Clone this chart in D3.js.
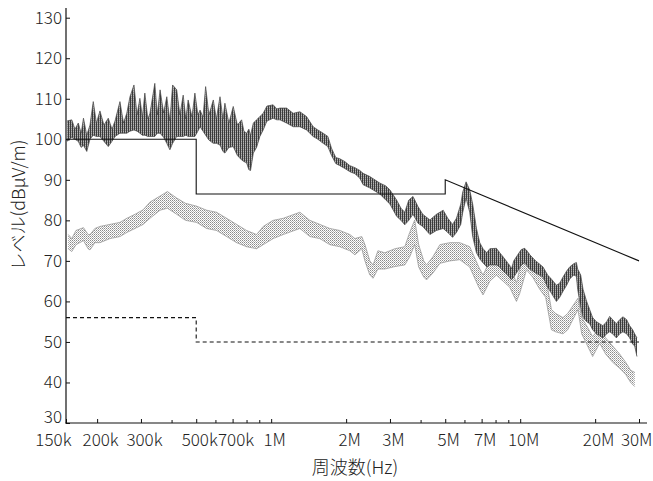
<!DOCTYPE html>
<html>
<head>
<meta charset="utf-8">
<script src="https://cdn.jsdelivr.net/npm/d3@7"></script>
<style>
  html, body { margin: 0; padding: 0; background: #fff; }
  svg { display: block; }
  .tick text { font-family: "Noto Sans CJK JP", "Noto Sans", sans-serif; font-weight: 300; fill: #222; }
  .title { font-family: "Noto Sans CJK JP", "Noto Sans", sans-serif; font-weight: 300; fill: #222; }
</style>
</head>
<body>
<svg id="chart" width="653" height="481"></svg>
<script>
// Frequency axis ticks (Hz) and their labels
const xTickValues = [150e3, 200e3, 300e3, 500e3, 700e3, 1e6, 2e6, 3e6, 5e6, 7e6, 10e6, 20e6, 30e6];
const xTickLabels = ["150k", "200k", "300k", "500k", "700k", "1M", "2M", "3M", "5M", "7M", "10M", "20M", "30M"];
const xMinorTicks = [400e3, 600e3, 800e3, 900e3, 4e6, 6e6, 8e6, 9e6];
const yTickValues = [30, 40, 50, 60, 70, 80, 90, 100, 110, 120, 130];

// Limit lines: frequency in MHz, level in dBµV/m
const limitFreqMHz  = [0.15, 0.5, 0.5, 5, 5, 30];
const limitUpper    = [100, 100, 86.5, 86.5, 90, 70];
const limit2FreqMHz = [0.15, 0.5, 0.5, 30];
const limitLower    = [56, 56, 50, 50];

// Peak sweep: frequency in kHz, upper and lower edge of the trace in dBµV/m
const peakFreqKHz = [151.4,158.2,163.0,168.0,172.6,176.3,181.8,187.2,193.0,198.7,205.3,213.0,221.7,229.5,236,247,255.2,263.1,271,281.2,289.3,297,304,311,319.7,326,341,349,358,369.8,381,392,402,417.5,430,443.3,454.2,464,480.8,494,507.8,518,532.5,545.5,562.4,585.6,602.3,623,640.4,652,676.6,704.2,731.7,760.9,777.2,796.5,813.6,826.3,848,873.7,901,928.9,961.7,1018.6,1054,1084,1153,1226,1304,1387,1474,1540,1617,1689,1747,1817,1887,1976,2070,2170,2270,2340,2490,2730,2887,3000,3190,3321,3440,3570,3712,3887,4061,4340,4612,4908,5120,5352,5547,5773,5880,6062,6270,6446,6674,6880,7093,7345,7550,8026,8280,8537,8913,9224,9422,9776,10099,10430,10920,11546,12351,12891,13349,13979,14410,14857,15372,15800,16396,16813,17013,17501,17878,18489,19010,19542,20227,20850,21496,22248,22870,23510,24331,25090,25868,26761,27520,28291,28820,29440];
const peakHigh = [104.5,104.8,102.5,104.0,101.5,105.2,101,103.5,109.3,104,107,103.5,105.2,102.5,104.5,109.3,104,106.4,110.5,113.4,106,110.1,105.5,111.4,105,106.4,113.8,106,112.2,106.5,110.5,104.5,113.4,112.2,106,110.9,105,109.7,105.5,111.4,106,107.2,105.5,113,106,109.7,105,110.5,105,108.9,104,108.1,103.5,104.8,102,101.5,102.5,101,104,104.8,105.6,106.4,108.2,108.5,107.5,107.7,107.7,106.4,106.8,105.6,103.1,102.3,101.5,100.7,97.8,95.5,95.2,94.5,93.5,93,92.3,91.6,90.8,89.2,88.5,87.5,85,83,82,85,85.9,83.4,81.5,80.1,81.5,82.5,80.5,79,80.5,84,87,89.5,87.5,84,78,74.5,73,72,73,73.1,72,71,69.5,68,70,71.5,72.8,73.1,71.5,70,68.5,66.5,65.5,64,64.5,66,67.5,68.5,69.3,69.6,68,66.5,63,60,58,56,55,54.5,54,55,56.3,55.5,54.5,55.5,56.2,55.5,54,53,52,51];
const peakLow = [99.5,100.5,100,99.5,98,98.5,97,100,101,100.7,100.7,99.5,98.2,99.5,100.7,101.5,101.5,101.5,102,102.3,102,101.5,101,101,100.7,100.7,100.7,101.5,101.5,100.5,99,97.4,99,100.7,100.7,100.7,101,100.7,100.7,100.7,102,103.1,102,101,99.8,99,99,98.6,97,96.6,98,98.2,96,94.9,94.5,94.2,92.5,92.3,96.6,98,100.7,102.3,104.5,105.2,104.8,104.8,104,103.1,103.1,102.3,100.7,100,99,98.2,96,94,93.5,92.8,92,91.5,90.4,88.8,88,86.5,85,84,81,80,78.9,80,81.5,79.3,78.5,76.5,77.5,78,77,75.8,77,79,82,85.5,82,76,72,70.5,69.5,68.5,69,69,68.5,67.5,66.5,65.3,66,67.5,69,69.5,68,67,66,63.5,62,60,61,62.5,64,65.5,66.5,66.2,63,58.5,56,55,54.5,53,52,51.5,51,52,52.5,52,51,52,52.5,52,51,49.5,49,46.4];

// Quasi-peak sweep: frequency in kHz, upper and lower edge of the trace in dBµV/m
const qpFreqKHz = [153.2,158.2,164.5,176.3,184,187.2,196,205.3,225.3,247,263.1,284,306.1,326,358,383,417.5,452.9,501.9,550.6,603.4,662.4,726.4,796.5,873.7,928.9,1018.6,1117.6,1304,1430,1568,1720,1887,2070,2170,2312,2380,2490,2567,2683,2860,3140,3440,3600,3770,3912,4099,4206,4462,4760,5220,5720,6270,6818,7093,7550,8026,8537,9080,9661,9960,10596,11226,11980,12657,13349,13888,14857,15512,17063,17664,18489,19542,20850,22043,23510,25090,26514,27776,28820];
const qpHigh = [76.5,75.5,77.5,78.2,76.5,76.5,78,78.5,79,79.5,80.5,81.5,82.6,84.5,86,87.1,85.5,84.2,83.5,82.5,82,80.5,79,77.5,76.5,78.5,80,80.5,82,80,79,78,77.5,76.5,75.5,76,74,70,69,72.5,72,73,73.5,77,80.1,74,70,69,71,74,74.5,74.5,73.5,68.5,66.5,70,71,69.5,69,64.5,68,72.7,70.5,68,66,58,57,56,57,60.8,56,54,51.3,53.5,51,49,47,45,43,42.5];
const qpLow = [73,72.3,74,75,73,72.7,74.5,74.5,75.5,76,77,78,79,80.5,82.5,83,81.5,80,79.5,78,77.5,76,74.5,73.5,73,74,75.5,76.5,78,76,75.5,74,73.5,72.5,71.5,73,70,66.5,65.7,68,68,68.6,69,71,74,68.5,66,65.3,67,69.4,70,70.3,68.5,63.5,61.6,65,66.5,65,63.5,60,62,67.8,66,63,61,53,52.5,52,53,58,52,49.5,46.4,49.7,47,45,43.5,42,40,39];

const svg = d3.select("#chart");
const x = d3.scaleLog().domain([150e3, 30e6]).range([66, 639]);
const y = d3.scaleLinear().domain([30, 130]).range([423, 17.7]);

// Hatch fills that give the sweeps their dense, zig-zag texture
const defs = svg.append("defs");
const hatchDark = defs.append("pattern").attr("id", "hatchDark")
  .attr("patternUnits", "userSpaceOnUse").attr("width", 2).attr("height", 2);
hatchDark.append("rect").attr("x", 0).attr("y", 0).attr("width", 1).attr("height", 2).attr("fill", "#3a3a3a");
hatchDark.append("rect").attr("x", 1).attr("y", 0).attr("width", 1).attr("height", 1).attr("fill", "#8e8e8e");
hatchDark.append("rect").attr("x", 1).attr("y", 1).attr("width", 1).attr("height", 1).attr("fill", "#b4b4b4");
const hatchLight = defs.append("pattern").attr("id", "hatchLight")
  .attr("patternUnits", "userSpaceOnUse").attr("width", 2).attr("height", 2);
hatchLight.append("rect").attr("x", 0).attr("y", 0).attr("width", 1).attr("height", 1).attr("fill", "#8a8a8a");
hatchLight.append("rect").attr("x", 1).attr("y", 1).attr("width", 1).attr("height", 1).attr("fill", "#b5b5b5");

function band(freqKHz, hi, lo) {
  return freqKHz.map((f, i) => ({ f: f * 1e3, hi: hi[i], lo: lo[i] }));
}
const area = d3.area().x(d => x(d.f)).y0(d => y(d.lo)).y1(d => y(d.hi));
const hiLine = d3.line().x(d => x(d.f)).y(d => y(d.hi));
const loLine = d3.line().x(d => x(d.f)).y(d => y(d.lo));

function drawSweep(data, fillId, edge, edgeWidth) {
  const g = svg.append("g");
  g.append("path").datum(data).attr("d", area).attr("fill", `url(#${fillId})`);
  g.append("path").datum(data).attr("d", hiLine).attr("fill", "none").attr("stroke", edge).attr("stroke-width", edgeWidth);
  g.append("path").datum(data).attr("d", loLine).attr("fill", "none").attr("stroke", edge).attr("stroke-width", edgeWidth);
}

drawSweep(band(qpFreqKHz, qpHigh, qpLow), "hatchLight", "#9c9c9c", 0.8);
drawSweep(band(peakFreqKHz, peakHigh, peakLow), "hatchDark", "#444", 0.7);

// Limit lines
const limLine = d3.line().x(d => x(d[0] * 1e6)).y(d => y(d[1]));
svg.append("path").datum(limitFreqMHz.map((f, i) => [f, limitUpper[i]]))
  .attr("d", limLine).attr("fill", "none").attr("stroke", "#111").attr("stroke-width", 1.1);
svg.append("path").datum(limit2FreqMHz.map((f, i) => [f, limitLower[i]]))
  .attr("d", limLine).attr("fill", "none").attr("stroke", "#111").attr("stroke-width", 1.1)
  .attr("stroke-dasharray", "4,3");

// Axes
const xAxis = d3.axisBottom(x).tickValues(xTickValues)
  .tickFormat((d, i) => xTickLabels[i]).tickSize(-4).tickPadding(11);
const gx = svg.append("g").attr("transform", "translate(0,423)").call(xAxis);
gx.select(".domain").remove();
gx.selectAll(".tick line").attr("stroke", "#111");
gx.selectAll(".tick text").attr("font-size", 17).attr("x", 3);
gx.selectAll(".tick").filter(d => d === 150e3).select("text").attr("text-anchor", "end").attr("x", 5);
gx.selectAll(".tick").filter(d => d === 30e6).select("text").attr("text-anchor", "end").attr("x", 13);

gx.selectAll(".minor").data(xMinorTicks).enter().append("line")
  .attr("class", "minor")
  .attr("x1", d => x(d)).attr("x2", d => x(d))
  .attr("y1", 0).attr("y2", -3).attr("stroke", "#111");

const yAxis = d3.axisLeft(y).tickValues(yTickValues).tickSize(-4).tickPadding(4);
const gy = svg.append("g").attr("transform", "translate(66,0)").call(yAxis);
gy.select(".domain").remove();
gy.selectAll(".tick line").attr("stroke", "#111");
gy.selectAll(".tick text").attr("font-size", 17);
gy.selectAll(".tick").filter(d => d === 30).select("text").attr("y", -6);

// Axis lines
svg.append("line").attr("x1", 66).attr("x2", 66).attr("y1", 8).attr("y2", 423.5)
  .attr("stroke", "#111").attr("stroke-width", 1.2);
svg.append("line").attr("x1", 65.5).attr("x2", 647).attr("y1", 423).attr("y2", 423)
  .attr("stroke", "#111").attr("stroke-width", 1.2);

// Axis titles
svg.append("text").attr("class", "title")
  .attr("x", 355).attr("y", 474).attr("text-anchor", "middle").attr("font-size", 18)
  .text("周波数(Hz)");
svg.append("text").attr("class", "title")
  .attr("transform", "translate(25,205) rotate(-90)").attr("text-anchor", "middle").attr("font-size", 18)
  .text("レベル(dBμV/m)");
</script>
</body>
</html>
